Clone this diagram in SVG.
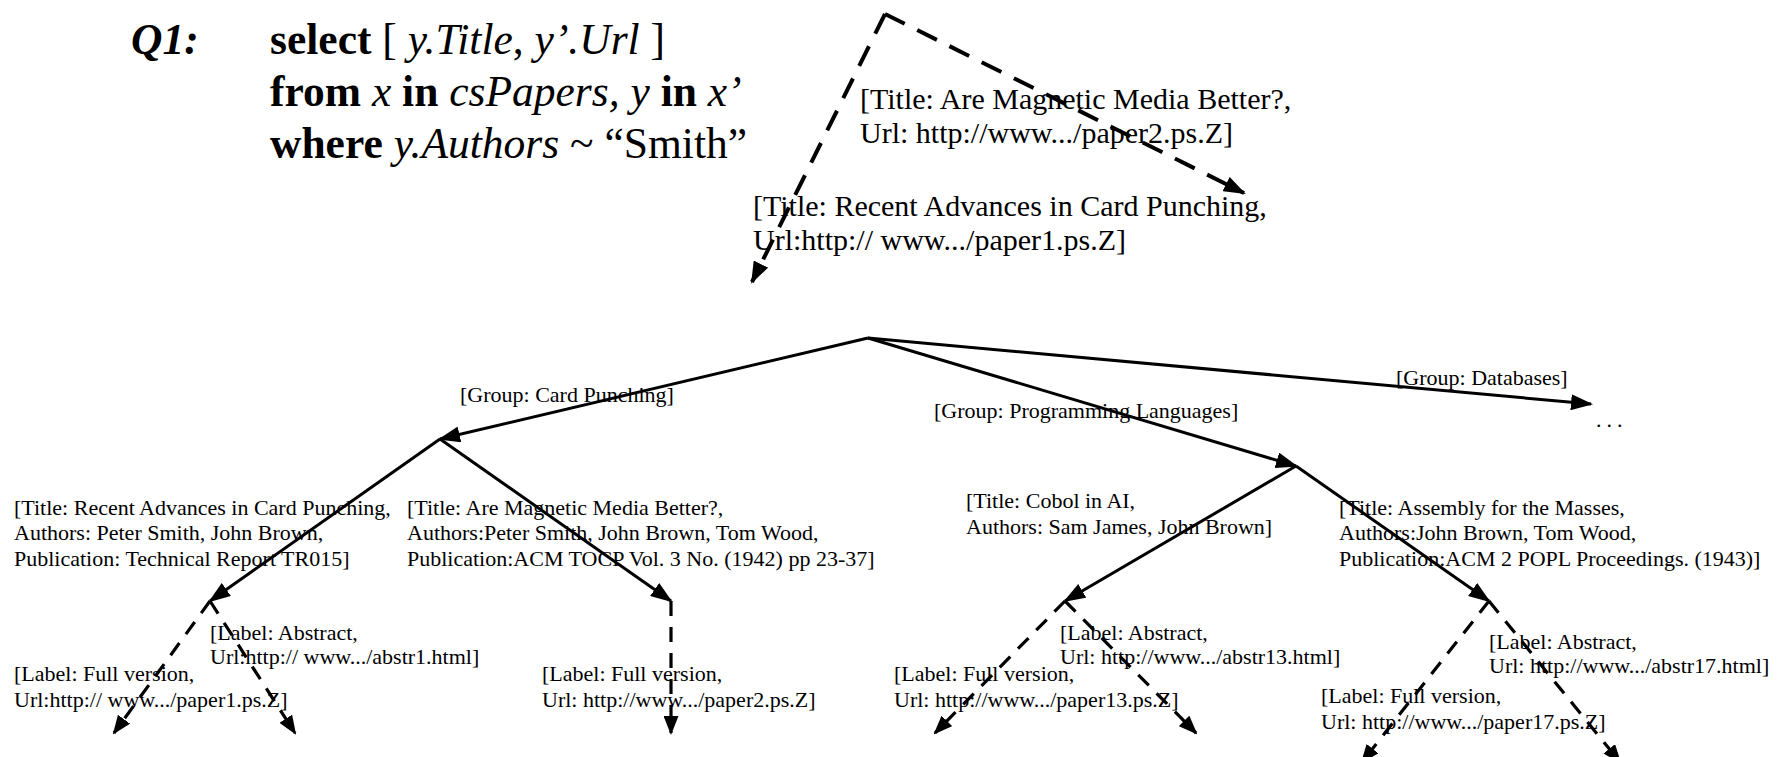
<svg xmlns="http://www.w3.org/2000/svg" width="1782" height="757" viewBox="0 0 1782 757">
  <defs>
    <marker id="head" viewBox="0 0 22 16" refX="20" refY="8" markerWidth="22" markerHeight="16" markerUnits="userSpaceOnUse" orient="auto">
      <path d="M0,0 L22,8 L0,16 z" fill="#000"/>
    </marker>
    <marker id="headSmall" viewBox="0 0 19 15" refX="17" refY="7.5" markerWidth="19" markerHeight="15" markerUnits="userSpaceOnUse" orient="auto">
      <path d="M0,0 L19,7.5 L0,15 z" fill="#000"/>
    </marker>
    <style>
      text { font-family: "Liberation Serif", "Times New Roman", serif; fill: #000; }
      .q { font-size: 43.5px; }
      .b { font-weight: bold; }
      .i { font-style: italic; }
      .top { font-size: 30px; }
      .lbl { font-size: 22px; }
      .solid { stroke: #000; stroke-width: 3; fill: none; marker-end: url(#head); }
      .dashTop { stroke: #000; stroke-width: 4; fill: none; stroke-dasharray: 22 14; marker-end: url(#head); }
      .dash { stroke: #000; stroke-width: 3.2; fill: none; stroke-dasharray: 15 11; marker-end: url(#headSmall); }
    </style>
  </defs>
  <rect width="1782" height="757" fill="#fff"/>

  <!-- query -->
  <g id="query">
    <text class="q b i" x="131" y="54">Q1:</text>
    <text class="q" x="270" y="54"><tspan class="b">select</tspan> [ <tspan class="i">y.Title</tspan>, <tspan class="i">y’.Url</tspan> ]</text>
    <text class="q" x="270" y="106"><tspan class="b">from</tspan> <tspan class="i">x</tspan> <tspan class="b">in</tspan> <tspan class="i">csPapers,</tspan> <tspan class="i">y</tspan> <tspan class="b">in</tspan> <tspan class="i">x’</tspan></text>
    <text class="q" x="270" y="158"><tspan class="b">where</tspan> <tspan class="i">y.Authors</tspan> ~ “Smith”</text>
  </g>

  <!-- connectors -->
  <g id="connectors">
    <line class="dashTop" x1="885" y1="14" x2="752" y2="282"/>
    <line class="dashTop" x1="885" y1="14" x2="1244" y2="193"/>

    <line class="solid" x1="868" y1="338" x2="440" y2="439"/>
    <line class="solid" x1="868" y1="338" x2="1296" y2="466"/>
    <line class="solid" x1="868" y1="338" x2="1591" y2="404"/>

    <line class="solid" x1="440" y1="439" x2="210" y2="601"/>
    <line class="solid" x1="440" y1="439" x2="671" y2="601"/>
    <line class="solid" x1="1296" y1="466" x2="1065" y2="601"/>
    <line class="solid" x1="1296" y1="466" x2="1489" y2="601"/>

    <line class="dash" x1="210" y1="601" x2="114" y2="733"/>
    <line class="dash" x1="210" y1="601" x2="295" y2="733"/>
    <line class="dash" x1="671" y1="601" x2="671" y2="733"/>
    <line class="dash" x1="1065" y1="601" x2="935" y2="733"/>
    <line class="dash" x1="1065" y1="601" x2="1196" y2="733"/>
    <line class="dash" x1="1489" y1="601" x2="1362" y2="762"/>
    <line class="dash" x1="1489" y1="601" x2="1620" y2="762"/>
  </g>

  <!-- answer tuples -->
  <g id="answer2">
    <text class="top" x="860" y="109">[Title: Are Magnetic Media Better?,</text>
    <text class="top" x="860" y="143">Url: http://www.../paper2.ps.Z]</text>
  </g>
  <g id="answer1">
    <text class="top" x="753" y="216">[Title: Recent Advances in Card Punching,</text>
    <text class="top" x="753" y="250">Url:http:// www.../paper1.ps.Z]</text>
  </g>

  <!-- group edges -->
  <g id="group-cp"><text class="lbl" x="460" y="402">[Group: Card Punching]</text></g>
  <g id="group-pl"><text class="lbl" x="934" y="418">[Group: Programming Languages]</text></g>
  <g id="group-db">
    <text class="lbl" x="1396" y="385">[Group: Databases]</text>
    <text class="lbl" x="1596" y="427" letter-spacing="5">...</text>
  </g>

  <!-- paper nodes -->
  <g id="paper1">
    <text class="lbl" x="14" y="515">[Title: Recent Advances in Card Punching,</text>
    <text class="lbl" x="14" y="540">Authors: Peter Smith, John Brown,</text>
    <text class="lbl" x="14" y="566">Publication: Technical Report TR015]</text>
  </g>
  <g id="paper2">
    <text class="lbl" x="407" y="515">[Title: Are Magnetic Media Better?,</text>
    <text class="lbl" x="407" y="540">Authors:Peter Smith, John Brown, Tom Wood,</text>
    <text class="lbl" x="407" y="566">Publication:ACM TOCP Vol. 3 No. (1942) pp 23-37]</text>
  </g>
  <g id="paper13">
    <text class="lbl" x="966" y="508">[Title: Cobol in AI,</text>
    <text class="lbl" x="966" y="534">Authors: Sam James, John Brown]</text>
  </g>
  <g id="paper17">
    <text class="lbl" x="1339" y="515">[Title: Assembly for the Masses,</text>
    <text class="lbl" x="1339" y="540">Authors:John Brown, Tom Wood,</text>
    <text class="lbl" x="1339" y="566">Publication:ACM 2 POPL Proceedings. (1943)]</text>
  </g>

  <!-- link labels -->
  <g id="abstr1">
    <text class="lbl" x="210" y="640">[Label: Abstract,</text>
    <text class="lbl" x="210" y="664">Url:http:// www.../abstr1.html]</text>
  </g>
  <g id="full1">
    <text class="lbl" x="14" y="681">[Label: Full version,</text>
    <text class="lbl" x="14" y="707">Url:http:// www.../paper1.ps.Z]</text>
  </g>
  <g id="full2">
    <text class="lbl" x="542" y="681">[Label: Full version,</text>
    <text class="lbl" x="542" y="707">Url: http://www.../paper2.ps.Z]</text>
  </g>
  <g id="abstr13">
    <text class="lbl" x="1060" y="640">[Label: Abstract,</text>
    <text class="lbl" x="1060" y="664">Url: http://www.../abstr13.html]</text>
  </g>
  <g id="full13">
    <text class="lbl" x="894" y="681">[Label: Full version,</text>
    <text class="lbl" x="894" y="707">Url: http://www.../paper13.ps.Z]</text>
  </g>
  <g id="abstr17">
    <text class="lbl" x="1489" y="649">[Label: Abstract,</text>
    <text class="lbl" x="1489" y="673">Url: http://www.../abstr17.html]</text>
  </g>
  <g id="full17">
    <text class="lbl" x="1321" y="703">[Label: Full version,</text>
    <text class="lbl" x="1321" y="729">Url: http://www.../paper17.ps.Z]</text>
  </g>
</svg>
